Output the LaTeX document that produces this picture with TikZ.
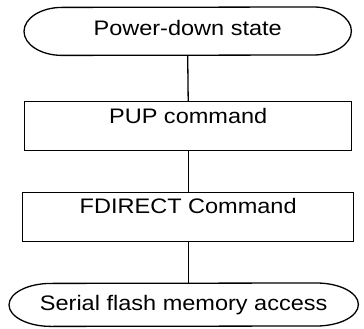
\documentclass[tikz,border=0pt]{standalone}
\usepackage{fontspec}
\setmainfont{Liberation Sans}
\usepackage{graphicx}
\newcommand{\lbl}[1]{\scalebox{1.12}[1]{#1}}
\begin{document}
\begin{tikzpicture}[x=1pt,y=-1pt,
  every node/.style={font=\fontsize{21}{25}\selectfont, inner sep=0pt},
  term/.style={draw=none, anchor=north west},
  stepbox/.style={draw=black, line width=1.4pt, anchor=north west},
  conn/.style={draw=black, line width=1.3pt},
  outline/.style={draw=black, line width=1.3pt}]
\useasboundingbox (0,0) rectangle (364,329);
% top terminal
\node[term, minimum width=327pt, text height=28pt, text depth=20pt] (pd) at (24,7) {\lbl{Power-down state}};
\draw[outline] ([xshift=-38pt]pd.north east) arc[start angle=90, end angle=-90, x radius=38pt, y radius=24pt]
  -- ([xshift=38pt]pd.south west) arc[start angle=270, end angle=90, x radius=38pt, y radius=24pt] -- cycle;
% boxes
\node[stepbox, minimum width=327pt, text height=22pt, text depth=27pt] (pup) at (24,101) {\lbl{PUP command}};
\node[stepbox, minimum width=331pt, text height=21pt, text depth=28pt] (fd) at (22,192) {\lbl{FDIRECT Command}};
% bottom terminal
\node[term, minimum width=349pt, text height=27pt, text depth=16pt] (sf) at (9,283) {\lbl{Serial flash memory access}};
\draw[outline] ([xshift=-42pt]sf.north east) arc[start angle=90, end angle=-90, x radius=42pt, y radius=21.5pt]
  -- ([xshift=42pt]sf.south west) arc[start angle=270, end angle=90, x radius=42pt, y radius=21.5pt] -- cycle;
% connectors
\draw[conn] (pd.south) -- (pup.north);
\draw[conn] (pup.south) -- (fd.north);
\draw[conn] (fd.south) -- (fd.south |- sf.north);
\end{tikzpicture}
\end{document}
